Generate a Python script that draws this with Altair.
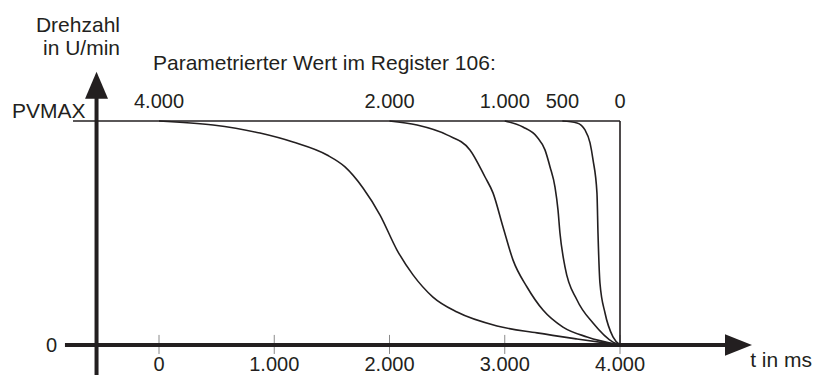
import altair as alt
import pandas as pd

# ---------------- data ----------------
# register values (ms) and the time at which each ramp starts
register_labels = ["4.000", "2.000", "1.000", "500", "0"]
ramp_start = [0, 2000, 3000, 3500, 4000]

# ramp curves: t in ms, speed as fraction of PVMAX
c4000_t = [0, 469, 876, 1163, 1458, 1614, 1770, 1918, 2065, 2204, 2377, 2586, 2933, 3280, 3627, 4000]
c4000_v = [1.0, 0.982, 0.946, 0.906, 0.848, 0.795, 0.701, 0.580, 0.424, 0.313, 0.214, 0.147, 0.085, 0.054, 0.027, 0.0]
c2000_t = [2000, 2239, 2499, 2698, 2829, 2898, 2985, 3072, 3193, 3332, 3505, 3714, 4000]
c2000_v = [1.0, 0.982, 0.938, 0.871, 0.75, 0.679, 0.527, 0.379, 0.259, 0.156, 0.080, 0.036, 0.0]
c1000_t = [3000, 3158, 3280, 3349, 3393, 3436, 3462, 3479, 3523, 3627, 3766, 3939, 4000]
c1000_v = [1.0, 0.973, 0.929, 0.871, 0.795, 0.705, 0.603, 0.5, 0.348, 0.201, 0.098, 0.013, 0.0]
c500_t = [3500, 3627, 3696, 3740, 3766, 3800, 3809, 3826, 3870, 3939, 4000]
c500_v = [1.0, 0.991, 0.96, 0.902, 0.826, 0.679, 0.5, 0.277, 0.143, 0.036, 0.0]
c0_t = [4000, 4000]
c0_v = [1.0, 0.0]

# x axis ticks
x_ticks = [0, 1000, 2000, 3000, 4000]
x_tick_labels = ["0", "1.000", "2.000", "3.000", "4.000"]

# ---------------- layout ----------------
W, H = 805, 367
XDOM = [-1310.2, 5674.6]
YDOM = [-0.13393, 1.50446]
INK = "#231f20"
FONT = "Liberation Sans"
FS_NUM = 20
FS_TXT = 21

xs = alt.Scale(domain=XDOM, zero=False, nice=False)
ys = alt.Scale(domain=YDOM, zero=False, nice=False)


def X(f):
    return alt.X(f, type="quantitative", scale=xs, axis=None)


def Y(f):
    return alt.Y(f, type="quantitative", scale=ys, axis=None)


rows = []
for name, ts, vs in [("4.000", c4000_t, c4000_v), ("2.000", c2000_t, c2000_v),
                     ("1.000", c1000_t, c1000_v), ("500", c500_t, c500_v),
                     ("0", c0_t, c0_v)]:
    for i, (t, v) in enumerate(zip(ts, vs)):
        rows.append({"reg": name, "t": t, "v": v, "o": i})
curves_df = pd.DataFrame(rows)

curves = alt.Chart(curves_df).mark_line(
    color=INK, strokeWidth=1.6, interpolate="monotone"
).encode(x=X("t"), y=Y("v"), detail="reg:N", order="o:Q")

# PVMAX reference line
pv_df = pd.DataFrame({"t": [-746], "t2": [4000], "v": [1.0]})
pv_line = alt.Chart(pv_df).mark_rule(color=INK, strokeWidth=1.6).encode(
    x=X("t"), x2="t2", y=Y("v"))

# axes (arrows)
xaxis_df = pd.DataFrame({"t": [-816], "t2": [4960], "v": [0.0]})
xaxis = alt.Chart(xaxis_df).mark_rule(color=INK, strokeWidth=4).encode(
    x=X("t"), x2="t2", y=Y("v"))
yaxis_df = pd.DataFrame({"t": [-542], "v": [-0.147], "v2": [1.12]})
yaxis = alt.Chart(yaxis_df).mark_rule(color=INK, strokeWidth=4).encode(
    x=X("t"), y=Y("v"), y2="v2")

up_df = pd.DataFrame({"t": [-542], "v": [1.160]})
up_arrow = alt.Chart(up_df).mark_point(
    shape="M0,-1L0.85,1L-0.85,1Z", size=729, filled=True, color=INK, opacity=1
).encode(x=X("t"), y=Y("v"))
right_df = pd.DataFrame({"t": [5028], "v": [0.0]})
right_arrow = alt.Chart(right_df).mark_point(
    shape="M1,0L-1,0.8L-1,-0.8Z", size=729, filled=True, color=INK, opacity=1
).encode(x=X("t"), y=Y("v"))

# tick marks and labels
ticks_df = pd.DataFrame({"t": x_ticks, "lab": x_tick_labels,
                         "lo": -0.04, "hi": 0.045, "ly": -0.116})
tick_marks = alt.Chart(ticks_df).mark_rule(color="#8a8a8a", strokeWidth=1).encode(
    x=X("t"), y=Y("lo"), y2="hi")
tick_labels = alt.Chart(ticks_df).mark_text(
    font=FONT, fontSize=FS_NUM, color=INK, align="center", baseline="alphabetic"
).encode(x=X("t"), y=Y("ly"), text="lab:N")

# register labels above each ramp start
reg_df = pd.DataFrame({"t": ramp_start, "lab": register_labels, "ly": 1.058})
reg_labels = alt.Chart(reg_df).mark_text(
    font=FONT, fontSize=FS_NUM, color=INK, align="center", baseline="alphabetic"
).encode(x=X("t"), y=Y("ly"), text="lab:N")

# free annotations (pixel positions inside the plot area)
notes_df = pd.DataFrame({
    "txt": ["Drehzahl", "in U/min", "Parametrierter Wert im Register 106:",
            "PVMAX", "0", "t in ms"],
    "px": [112, 112, 145, 4, 49, 804],
    "py": [24, 47, 62, 110, 344, 359],
    "al": ["right", "right", "left", "left", "right", "right"],
    "fs": [FS_TXT, FS_TXT, FS_TXT, FS_TXT, FS_NUM, FS_TXT],
})


def note_layer(al):
    return alt.Chart(notes_df).transform_filter(
        alt.datum.al == al
    ).mark_text(
        font=FONT, color=INK, align=al, baseline="alphabetic"
    ).encode(
        x=alt.X("px:Q", scale=None, axis=None),
        y=alt.Y("py:Q", scale=None, axis=None),
        size=alt.Size("fs:Q", scale=None, legend=None),
        text="txt:N",
    )


chart = alt.layer(
    pv_line, tick_marks, xaxis, yaxis, up_arrow, right_arrow, curves,
    tick_labels, reg_labels, note_layer("left"), note_layer("right")
).resolve_scale(x="independent", y="independent").properties(
    width=W, height=H, autosize=alt.AutoSizeParams(type="none"), padding=0,
    background="white"
).configure_view(stroke=None)

chart.save("out.html", embed_options={"renderer": "svg", "actions": False})
